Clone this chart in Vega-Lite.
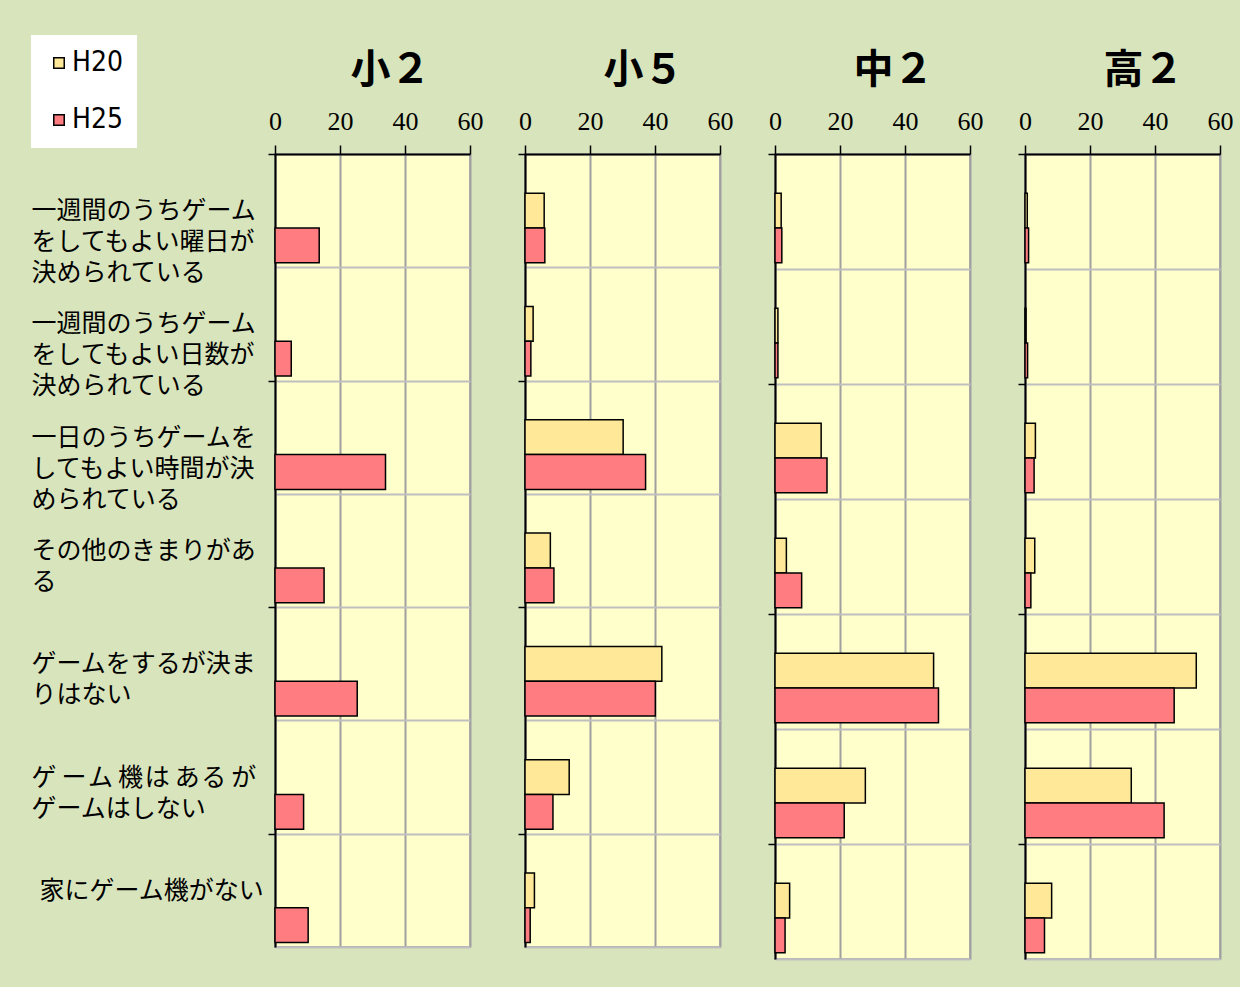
{
  "$schema": "https://vega.github.io/schema/vega-lite/v6.json",
  "background": "#d8e4bc",
  "padding": {"left": 30, "top": 35, "right": 6, "bottom": 27},
  "spacing": 32,
  "datasets": {
    "d": [
      {"grade": "小2", "cat": "一週間のうちゲーム|をしてもよい曜日が|決められている", "year": "H25", "value": 13.6},
      {"grade": "小2", "cat": "一週間のうちゲーム|をしてもよい日数が|決められている", "year": "H25", "value": 5.0},
      {"grade": "小2", "cat": "一日のうちゲームを|してもよい時間が決|められている", "year": "H25", "value": 34.0},
      {"grade": "小2", "cat": "その他のきまりがあ|る", "year": "H25", "value": 15.1},
      {"grade": "小2", "cat": "ゲームをするが決ま|りはない", "year": "H25", "value": 25.3},
      {"grade": "小2", "cat": "ゲ\u2009ー\u200aム\u2009機\u200aは\u2009あ\u200aる\u2009が|ゲームはしない", "year": "H25", "value": 8.8},
      {"grade": "小2", "cat": "家にゲーム機がない", "year": "H25", "value": 10.2},

      {"grade": "小5", "cat": "一週間のうちゲーム|をしてもよい曜日が|決められている", "year": "H20", "value": 5.9},
      {"grade": "小5", "cat": "一週間のうちゲーム|をしてもよい曜日が|決められている", "year": "H25", "value": 6.1},
      {"grade": "小5", "cat": "一週間のうちゲーム|をしてもよい日数が|決められている", "year": "H20", "value": 2.5},
      {"grade": "小5", "cat": "一週間のうちゲーム|をしてもよい日数が|決められている", "year": "H25", "value": 1.8},
      {"grade": "小5", "cat": "一日のうちゲームを|してもよい時間が決|められている", "year": "H20", "value": 30.2},
      {"grade": "小5", "cat": "一日のうちゲームを|してもよい時間が決|められている", "year": "H25", "value": 37.1},
      {"grade": "小5", "cat": "その他のきまりがあ|る", "year": "H20", "value": 7.8},
      {"grade": "小5", "cat": "その他のきまりがあ|る", "year": "H25", "value": 8.9},
      {"grade": "小5", "cat": "ゲームをするが決ま|りはない", "year": "H20", "value": 42.1},
      {"grade": "小5", "cat": "ゲームをするが決ま|りはない", "year": "H25", "value": 40.1},
      {"grade": "小5", "cat": "ゲ\u2009ー\u200aム\u2009機\u200aは\u2009あ\u200aる\u2009が|ゲームはしない", "year": "H20", "value": 13.6},
      {"grade": "小5", "cat": "ゲ\u2009ー\u200aム\u2009機\u200aは\u2009あ\u200aる\u2009が|ゲームはしない", "year": "H25", "value": 8.6},
      {"grade": "小5", "cat": "家にゲーム機がない", "year": "H20", "value": 2.9},
      {"grade": "小5", "cat": "家にゲーム機がない", "year": "H25", "value": 1.6},

      {"grade": "中2", "cat": "一週間のうちゲーム|をしてもよい曜日が|決められている", "year": "H20", "value": 1.9},
      {"grade": "中2", "cat": "一週間のうちゲーム|をしてもよい曜日が|決められている", "year": "H25", "value": 2.1},
      {"grade": "中2", "cat": "一週間のうちゲーム|をしてもよい日数が|決められている", "year": "H20", "value": 0.9},
      {"grade": "中2", "cat": "一週間のうちゲーム|をしてもよい日数が|決められている", "year": "H25", "value": 0.9},
      {"grade": "中2", "cat": "一日のうちゲームを|してもよい時間が決|められている", "year": "H20", "value": 14.2},
      {"grade": "中2", "cat": "一日のうちゲームを|してもよい時間が決|められている", "year": "H25", "value": 16.0},
      {"grade": "中2", "cat": "その他のきまりがあ|る", "year": "H20", "value": 3.5},
      {"grade": "中2", "cat": "その他のきまりがあ|る", "year": "H25", "value": 8.2},
      {"grade": "中2", "cat": "ゲームをするが決ま|りはない", "year": "H20", "value": 48.8},
      {"grade": "中2", "cat": "ゲームをするが決ま|りはない", "year": "H25", "value": 50.3},
      {"grade": "中2", "cat": "ゲ\u2009ー\u200aム\u2009機\u200aは\u2009あ\u200aる\u2009が|ゲームはしない", "year": "H20", "value": 27.8},
      {"grade": "中2", "cat": "ゲ\u2009ー\u200aム\u2009機\u200aは\u2009あ\u200aる\u2009が|ゲームはしない", "year": "H25", "value": 21.3},
      {"grade": "中2", "cat": "家にゲーム機がない", "year": "H20", "value": 4.5},
      {"grade": "中2", "cat": "家にゲーム機がない", "year": "H25", "value": 3.1},

      {"grade": "高2", "cat": "一週間のうちゲーム|をしてもよい曜日が|決められている", "year": "H20", "value": 0.7},
      {"grade": "高2", "cat": "一週間のうちゲーム|をしてもよい曜日が|決められている", "year": "H25", "value": 1.1},
      {"grade": "高2", "cat": "一週間のうちゲーム|をしてもよい日数が|決められている", "year": "H20", "value": 0.3},
      {"grade": "高2", "cat": "一週間のうちゲーム|をしてもよい日数が|決められている", "year": "H25", "value": 0.8},
      {"grade": "高2", "cat": "一日のうちゲームを|してもよい時間が決|められている", "year": "H20", "value": 3.2},
      {"grade": "高2", "cat": "一日のうちゲームを|してもよい時間が決|められている", "year": "H25", "value": 2.8},
      {"grade": "高2", "cat": "その他のきまりがあ|る", "year": "H20", "value": 3.0},
      {"grade": "高2", "cat": "その他のきまりがあ|る", "year": "H25", "value": 1.8},
      {"grade": "高2", "cat": "ゲームをするが決ま|りはない", "year": "H20", "value": 52.7},
      {"grade": "高2", "cat": "ゲームをするが決ま|りはない", "year": "H25", "value": 45.9},
      {"grade": "高2", "cat": "ゲ\u2009ー\u200aム\u2009機\u200aは\u2009あ\u200aる\u2009が|ゲームはしない", "year": "H20", "value": 32.7},
      {"grade": "高2", "cat": "ゲ\u2009ー\u200aム\u2009機\u200aは\u2009あ\u200aる\u2009が|ゲームはしない", "year": "H25", "value": 42.8},
      {"grade": "高2", "cat": "家にゲーム機がない", "year": "H20", "value": 8.2},
      {"grade": "高2", "cat": "家にゲーム機がない", "year": "H25", "value": 6.0}
    ]
  },
  "hconcat": [
    {
      "width": 195, "height": 793,
      "title": {"text": "小２", "dx": 18},
      "data": {"name": "d"},
      "transform": [{"filter": "datum.grade === '小2'"}],
      "mark": {"type": "bar", "stroke": "black", "strokeWidth": 1.5},
      "encoding": {
        "y": {"field": "cat", "type": "nominal", "sort": null,
          "scale": {"paddingInner": 0, "paddingOuter": 0},
          "axis": {"title": null, "labelExpr": "isString(datum.label) ? split(datum.label, '|') : ''", "labelAlign": "left", "labelBaseline": "middle",
            "labelPadding": {"condition": {"test": "isString(datum.value) && indexof(datum.value, '家に') >= 0", "value": 229}, "value": 237},
            "labelFont": "Noto Sans CJK JP", "labelFontSize": 25, "labelLineHeight": 31,
            "labelLimit": 0, "labelColor": "black", "labelOverlap": false}},
        "yOffset": {"field": "year", "scale": {"domain": ["gap", "H20", "H25"], "paddingInner": 0, "paddingOuter": 0.128}},
        "x": {"field": "value", "type": "quantitative", "scale": {"domain": [0, 60], "nice": false},
          "axis": {"values": [0, 20, 40, 60]}},
        "color": {"field": "year", "type": "nominal",
          "scale": {"domain": ["H20", "H25"], "range": ["#ffe999", "#ff7c80"]}}
      }
    },
    {
      "width": 195, "height": 793,
      "title": {"text": "小５"},
      "data": {"name": "d"},
      "transform": [{"filter": "datum.grade === '小5'"}],
      "mark": {"type": "bar", "stroke": "black", "strokeWidth": 1.5},
      "encoding": {
        "y": {"field": "cat", "type": "nominal", "sort": null,
          "scale": {"paddingInner": 0, "paddingOuter": 0},
          "axis": {"title": null, "labels": false}},
        "yOffset": {"field": "year", "scale": {"domain": ["gap", "H20", "H25"], "paddingInner": 0, "paddingOuter": 0.128}},
        "x": {"field": "value", "type": "quantitative", "scale": {"domain": [0, 60], "nice": false},
          "axis": {"values": [0, 20, 40, 60]}},
        "color": {"field": "year", "type": "nominal",
          "scale": {"domain": ["H20", "H25"], "range": ["#ffe999", "#ff7c80"]}}
      }
    },
    {
      "width": 195, "height": 805,
      "title": {"text": "中２"},
      "data": {"name": "d"},
      "transform": [{"filter": "datum.grade === '中2'"}],
      "mark": {"type": "bar", "stroke": "black", "strokeWidth": 1.5},
      "encoding": {
        "y": {"field": "cat", "type": "nominal", "sort": null,
          "scale": {"paddingInner": 0, "paddingOuter": 0},
          "axis": {"title": null, "labels": false}},
        "yOffset": {"field": "year", "scale": {"domain": ["gap", "H20", "H25"], "paddingInner": 0, "paddingOuter": 0.128}},
        "x": {"field": "value", "type": "quantitative", "scale": {"domain": [0, 60], "nice": false},
          "axis": {"values": [0, 20, 40, 60]}},
        "color": {"field": "year", "type": "nominal",
          "scale": {"domain": ["H20", "H25"], "range": ["#ffe999", "#ff7c80"]}}
      }
    },
    {
      "width": 195, "height": 805,
      "title": {"text": "高２"},
      "data": {"name": "d"},
      "transform": [{"filter": "datum.grade === '高2'"}],
      "mark": {"type": "bar", "stroke": "black", "strokeWidth": 1.5},
      "encoding": {
        "y": {"field": "cat", "type": "nominal", "sort": null,
          "scale": {"paddingInner": 0, "paddingOuter": 0},
          "axis": {"title": null, "labels": false}},
        "yOffset": {"field": "year", "scale": {"domain": ["gap", "H20", "H25"], "paddingInner": 0, "paddingOuter": 0.128}},
        "x": {"field": "value", "type": "quantitative", "scale": {"domain": [0, 60], "nice": false},
          "axis": {"values": [0, 20, 40, 60]}},
        "color": {"field": "year", "type": "nominal",
          "scale": {"domain": ["H20", "H25"], "range": ["#ffe999", "#ff7c80"]}}
      }
    }
  ],
  "resolve": {
    "scale": {"x": "independent", "y": "independent"}
  },
  "config": {
    "view": {"fill": "#ffffcc", "stroke": "#b3b3b3", "strokeWidth": 2},
    "title": {"font": "Noto Sans CJK JP", "fontSize": 40, "fontWeight": "bold", "color": "black",
      "anchor": "middle", "frame": "group", "dx": 21, "offset": 17},
    "legend": {"orient": "none", "legendX": -244, "legendY": -119, "title": null, "fillColor": "white",
      "padding": 14, "symbolType": "square", "symbolSize": 110, "symbolStrokeColor": "black", "symbolStrokeWidth": 1.5,
      "symbolOffset": 0, "labelFont": "DejaVu Sans Condensed", "labelFontSize": 28, "labelColor": "black",
      "rowPadding": 29, "labelOffset": -1, "direction": "vertical", "labelLimit": 0},
    "axisX": {"orient": "top", "title": null, "domainColor": "black", "domainWidth": 2,
      "tickColor": "black", "tickWidth": 1.5, "tickSize": 9, "grid": true, "gridColor": "#a0a0a0", "gridWidth": 2,
      "labelFont": "Liberation Serif", "labelFontSize": 26, "labelPadding": 11, "labelColor": "black",
      "labelFlush": false, "labelOverlap": false},
    "axisY": {"tickBand": "extent", "domainColor": "black", "domainWidth": 2, "tickColor": "black", "tickWidth": 1.5,
      "tickSize": 7,
      "tickOpacity": {"condition": {"test": "isString(datum.value) && (indexof(datum.value, '曜日') >= 0 || indexof(datum.value, '時間') >= 0 || indexof(datum.value, 'するが') >= 0 || indexof(datum.value, '家に') >= 0)", "value": 0}, "value": 1},
      "grid": true, "gridColor": "#bfbfbf", "gridWidth": 2}
  }
}
